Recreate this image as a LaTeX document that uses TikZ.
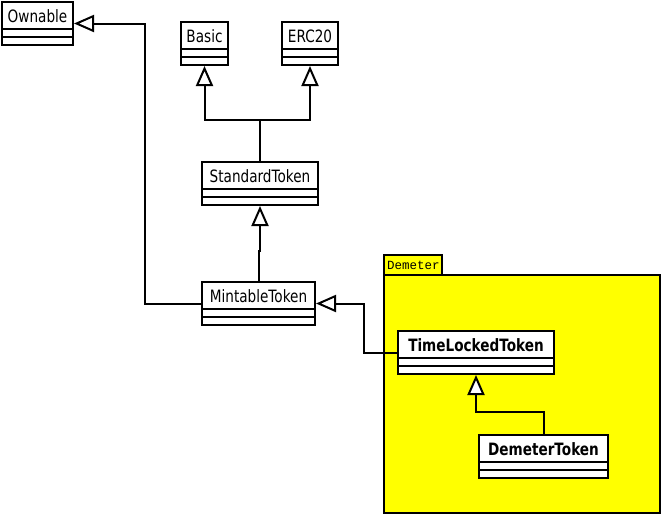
\documentclass[tikz,border=0pt]{standalone}
\usepackage{fontspec}
\setmainfont{DejaVu Sans}
\newfontfamily\clsfont{DejaVu Sans}[FakeStretch=0.8]
\newfontfamily\pkgfont{Liberation Mono}
\usetikzlibrary{arrows.meta,calc}
\definecolor{pkgyellow}{RGB}{255,255,0}

% class box: [name style]{node name}{top-left corner}{width}{class name}
\newcommand\umlclass[5][clsname]{%
  \node[clsbox,minimum width=#4pt,minimum height=43pt] (#2) at (#3) {};
  \node[#1] (#2-t) at ($(#2.north)+(0,21)$) {#5};
  \draw[line] ($(#2.north west)+(0,28)$) -- ($(#2.north east)+(0,28)$);
  \draw[line] ($(#2.north west)+(0,36)$) -- ($(#2.north east)+(0,36)$);
}

\begin{document}
\begin{tikzpicture}[x=1pt,y=-1pt,
  line/.style={line width=2pt},
  clsbox/.style={draw,line width=2pt,fill=white,inner sep=0pt,anchor=north west},
  clsname/.style={font=\clsfont\fontsize{17}{20}\selectfont,inner sep=0pt,anchor=base},
  clsbold/.style={font=\clsfont\bfseries\fontsize{17}{20}\selectfont,inner sep=0pt,anchor=base},
  gen/.style={line width=2pt,-{Triangle[length=20pt,width=17pt,fill=white]}},
  pkg/.style={draw,line width=2pt,fill=pkgyellow}]
\useasboundingbox (0,0) rectangle (661,515);

% package Demeter
\draw[pkg] (384,255) rectangle (442,275);
\draw[pkg] (384,275) rectangle (660,513);
\node[font=\pkgfont\fontsize{12.5}{14}\selectfont,inner sep=0pt,anchor=base west] (pkgname) at (387,269) {Demeter};

% classes
\umlclass{own}{1,1}{71}{Ownable}
\umlclass{basic}{180,21}{47}{Basic}
\umlclass{erc}{281,21}{56}{ERC20}
\umlclass{std}{201,161}{116}{StandardToken}
\umlclass{mint}{201,281}{113}{MintableToken}
\umlclass[clsbold]{tlt}{397,330}{156}{TimeLockedToken}
\umlclass[clsbold]{dem}{478,434}{129}{DemeterToken}

% generalizations
\coordinate (join) at ($(std.north)+(0,-41)$);
\draw[gen] (std.north) -- (join) -| (basic.south);
\draw[gen] (join) -| (erc.south);
\draw[gen] (mint.north) -- ++(0,-30) -| (std.south);
\draw[gen] (mint.west) -- ++(-56,0) |- (own.east);
\draw[gen] (tlt.west) -- ++(-33,0) |- (mint.east);
\draw[gen] (dem.north) -- ++(0,-22) -| (tlt.south);
\end{tikzpicture}
\end{document}
